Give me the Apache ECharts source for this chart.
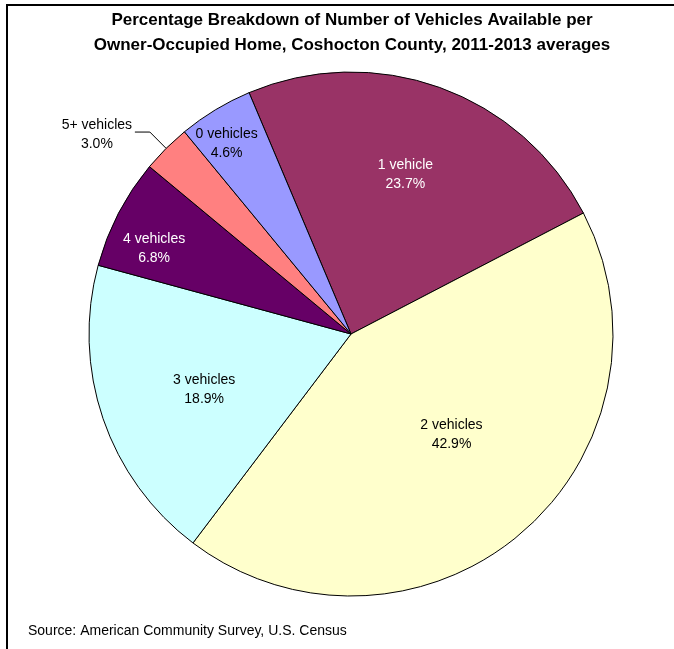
<!DOCTYPE html>
<html>
<head>
<meta charset="utf-8">
<script src="https://cdn.jsdelivr.net/npm/echarts@6/dist/echarts.min.js"></script>
<style>html,body{margin:0;padding:0;background:#fff;}#c{width:674px;height:649px;}</style>
</head>
<body>
<div id="c"></div>
<script>
const categories = ['1 vehicle', '2 vehicles', '3 vehicles', '4 vehicles', '5+ vehicles', '0 vehicles'];
const values = [23.7, 42.9, 18.9, 6.8, 3.0, 4.6];
const colors = ['#993366', '#FFFFCC', '#CCFFFF', '#660066', '#FF8080', '#9999FF'];
const titleLines = ['Percentage Breakdown of Number of Vehicles Available per', 'Owner-Occupied Home, Coshocton County, 2011-2013 averages'];
const sourceText = 'Source: American Community Survey, U.S. Census';

// label styling per slice (offsets from the mid-radius inside position)
const labelStyles = [
  {color: '#fff', offset: [9, -33]},
  {color: '#000', offset: [14, -2]},
  {color: '#000', offset: [-20, 12]},
  {color: '#fff', offset: [-78, -24]},
  null,
  {color: '#000', offset: [-55, -76]}
];

const data = categories.map((name, i) => {
  const item = {name: name, value: values[i], itemStyle: {color: colors[i]}};
  const ls = labelStyles[i];
  if (ls) {
    item.label = {position: 'inside', color: ls.color, offset: ls.offset};
    item.labelLine = {show: false};
  } else {
    item.label = {
      position: 'outside', color: '#000', distanceToLabelLine: 2,
      formatter: p => '{a|' + p.name + '}\n{a|' + p.value.toFixed(1) + '%}',
      padding: [6, 0, 0, 0],
      rich: {a: {width: 72, align: 'center', fontSize: 14, lineHeight: 19, fontFamily: 'Liberation Sans, Arial, sans-serif', color: '#000'}}
    };
    item.labelLine = {show: true, length: 23, length2: 15, lineStyle: {color: '#000', width: 1}};
  }
  return item;
});

const chart = echarts.init(document.getElementById('c'), null, {renderer: 'canvas'});
chart.setOption({
  animation: false,
  backgroundColor: '#fff',
  title: {
    text: titleLines.join('\n'),
    left: 347, top: 3, textAlign: 'center',
    textStyle: {fontSize: 17, fontWeight: 'bold', fontFamily: 'Liberation Sans, Arial, sans-serif', color: '#000', lineHeight: 25}
  },
  graphic: [
    {type: 'rect', shape: {x: 7, y: 5, width: 800, height: 800}, style: {fill: 'none', stroke: '#000', lineWidth: 2}, silent: true},
    {type: 'text', left: 28, top: 624, style: {text: sourceText, fontSize: 14, fontFamily: 'Liberation Sans, Arial, sans-serif', fill: '#000'}}
  ],
  series: [{
    type: 'pie',
    center: [351, 334],
    radius: [0, 262],
    startAngle: 112.9,
    clockwise: true,
    avoidLabelOverlap: false,
    itemStyle: {borderColor: '#000', borderWidth: 1},
    emphasis: {disabled: true},
    label: {
      fontSize: 14, lineHeight: 19, fontFamily: 'Liberation Sans, Arial, sans-serif',
      formatter: p => p.name + '\n' + p.value.toFixed(1) + '%'
    },
    data: data
  }]
});
</script>
</body>
</html>
